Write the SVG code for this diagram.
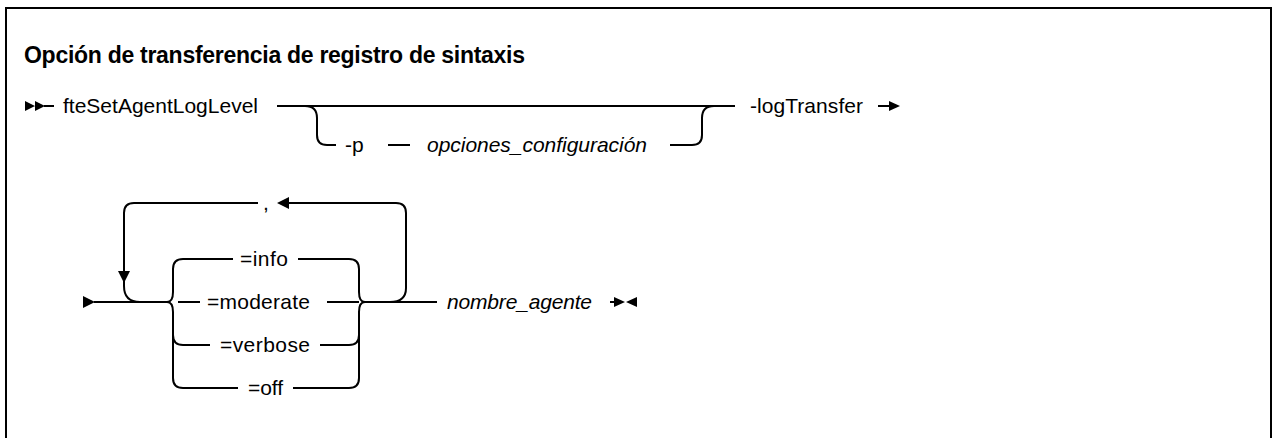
<svg xmlns="http://www.w3.org/2000/svg" width="1273" height="438" viewBox="0 0 1273 438">
<style>
.ln{fill:none;stroke:#000;stroke-width:2}
.ah{fill:#000;stroke:none}
.t{font-family:"Liberation Sans",Arial,sans-serif;font-size:21px;fill:#000}
.i{font-style:italic}
.title{font-family:"Liberation Sans",Arial,sans-serif;font-size:23px;font-weight:bold;fill:#000}
</style>
<rect width="1273" height="438" fill="#fff"/>
<path class="ln" d="M6,445 V8 H1271 V445"/>
<text class="title" x="24" y="63" textLength="501">Opción de transferencia de registro de sintaxis</text>

<g id="connectors">
  <!-- row 1 -->
  <path class="ah" d="M25,101 L35,106 L25,111 Z M35,101 L45,106 L35,111 Z"/>
  <path class="ln" d="M44,106 H54"/>
  <path class="ln" d="M277,106 H735"/>
  <path class="ln" d="M305,106 Q317,106 317,118 V135 Q317,145 327,145 H336"/>
  <path class="ln" d="M388,145 H410"/>
  <path class="ln" d="M670,145 H692 Q702,145 702,135 V118 Q702,106 714,106"/>
  <path class="ln" d="M878,106 H892"/>
  <path class="ah" d="M889,101 L900,106 L889,111 Z"/>

  <!-- row 2 -->
  <path class="ah" d="M83,296 L95,302 L83,308 Z"/>
  <path class="ln" d="M94,302 H167"/>
  <!-- loop -->
  <path class="ln" d="M140,302 Q124,302 124,286 V213 Q124,203 134,203 H258"/>
  <path class="ah" d="M118,271 L130,271 L124,283 Z"/>
  <path class="ln" d="M288,203 H396 Q406,203 406,213 V288 Q406,302 390,302"/>
  <path class="ah" d="M289,197 L289,209 L277,203 Z"/>
  <!-- choice bracket left -->
  <path class="ln" d="M167,302 Q173,302 173,292 V269 Q173,259 183,259 H233"/>
  <path class="ln" d="M167,302 Q173,302 173,312 V378 Q173,388 183,388 H238"/>
  <path class="ln" d="M173,335 Q173,345 183,345 H210"/>
  <path class="ln" d="M178,302 H200"/>
  <!-- choice bracket right -->
  <path class="ln" d="M298,259 H349 Q359,259 359,269 V292 Q359,302 365,302"/>
  <path class="ln" d="M293,388 H349 Q359,388 359,378 V312 Q359,302 365,302"/>
  <path class="ln" d="M320,345 H349 Q359,345 359,335"/>
  <path class="ln" d="M327,302 H359"/>
  <path class="ln" d="M365,302 H437"/>
  <!-- end -->
  <path class="ln" d="M610,302 H618"/>
  <path class="ah" d="M614,297 L625,302 L614,307 Z M637,297 L626,302 L637,307 Z"/>
</g>

<g id="n-command"><text class="t" x="63" y="113" textLength="195">fteSetAgentLogLevel</text></g>
<g id="n-p"><text class="t" x="345" y="152">-p</text></g>
<g id="n-opciones"><text class="t i" x="427" y="152" textLength="220">opciones_configuración</text></g>
<g id="n-logtransfer"><text class="t" x="750" y="113" textLength="113">-logTransfer</text></g>
<g id="n-comma"><text class="t" x="263" y="210">,</text></g>
<g id="n-info"><text class="t" x="240" y="266" textLength="48">=info</text></g>
<g id="n-moderate"><text class="t" x="207" y="309" textLength="103">=moderate</text></g>
<g id="n-verbose"><text class="t" x="220" y="352" textLength="90">=verbose</text></g>
<g id="n-off"><text class="t" x="248" y="395" textLength="35">=off</text></g>
<g id="n-nombre"><text class="t i" x="447" y="309" textLength="145">nombre_agente</text></g>
</svg>
